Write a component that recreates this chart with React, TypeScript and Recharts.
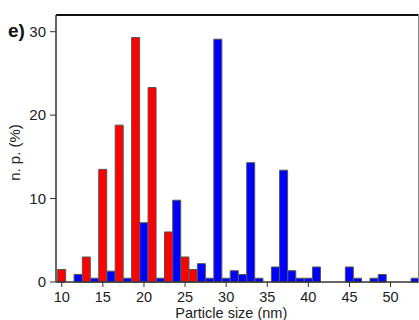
import { BarChart, Bar, XAxis, YAxis, ReferenceLine } from "recharts";

// particle size histogram, 1 nm bins
const sizes = [
  10, 11, 12, 13, 14, 15, 16, 17, 18, 19, 20, 21, 22, 23, 24, 25, 26, 27, 28, 29, 30, 31,
  32, 33, 34, 35, 36, 37, 38, 39, 40, 41, 42, 43, 44, 45, 46, 47, 48, 49, 50, 51, 52, 53,
];
const redBins = [10, 13, 15, 17, 19, 21, 23, 25, 26];
const redPct = [1.5, 3.0, 13.5, 18.8, 29.3, 23.3, 6.0, 3.0, 1.5];
const blueBins = [
  12, 14, 16, 18, 20, 22, 24, 27, 28, 29, 30, 31, 32, 33, 34, 36, 37, 38, 39, 40, 41, 45,
  46, 48, 49, 53,
];
const bluePct = [
  0.9, 0.45, 1.3, 0.45, 7.1, 0.45, 9.8, 2.2, 0.45, 29.1, 0.45, 1.35, 0.9, 14.3, 0.45, 1.8,
  13.4, 1.35, 0.45, 0.45, 1.8, 1.8, 0.45, 0.45, 0.9, 0.45,
];
const xTicks = [10, 15, 20, 25, 30, 35, 40, 45, 50];
const yTicks = [0, 10, 20, 30];

const data = sizes.map((s) => {
  const r = redBins.indexOf(s);
  const b = blueBins.indexOf(s);
  return {
    size: s,
    red: r >= 0 ? redPct[r] : null,
    blue: b >= 0 ? bluePct[b] : null,
  };
});

const font = "'Liberation Sans', Arial, sans-serif";
const tickStyle = { fontSize: 15, fill: "#222", fontFamily: font };

const YLabel = ({ viewBox }: any) => {
  const cy = viewBox.y + viewBox.height / 2 + 4;
  return (
    <text
      x={20}
      y={cy}
      transform={`rotate(-90, 20, ${cy})`}
      textAnchor="middle"
      style={{ fontSize: 15, fill: "#222", fontFamily: font }}
    >
      n. p. (%)
    </text>
  );
};

export default function App() {
  return (
    <div
      style={{
        position: "absolute",
        left: 0,
        top: 0,
        width: 419,
        height: 320,
        overflow: "hidden",
        background: "#fff",
      }}
    >
      <div
        style={{
          position: "absolute",
          left: 8,
          top: 21,
          fontSize: 19,
          lineHeight: "19px",
          fontWeight: 700,
          fontFamily: font,
          color: "#111",
        }}
      >
        e)
      </div>
      <BarChart
        width={419}
        height={320}
        data={data}
        margin={{ top: 15, right: 0.5, left: 0, bottom: 0 }}
        barCategoryGap={0}
        barGap={0}
      >
        <XAxis
          dataKey="size"
          type="number"
          domain={[9.3, 53.4]}
          allowDataOverflow
          ticks={xTicks}
          interval={0}
          height={38}
          tick={{ ...tickStyle, fontSize: 14.5 }}
          tickSize={5}
          tickMargin={5}
          stroke="#333"
          axisLine={{ stroke: "#333", strokeWidth: 1.5 }}
          tickLine={{ stroke: "#333" }}
          label={{
            value: "Particle size (nm)",
            position: "insideBottom",
            offset: 2,
            dx: -6,
            style: { fontSize: 14.5, fill: "#222", fontFamily: font },
          }}
        />
        <YAxis
          type="number"
          domain={[0, 32]}
          ticks={yTicks}
          interval={0}
          width={56}
          tick={tickStyle}
          tickSize={6}
          tickMargin={4}
          axisLine={{ stroke: "#333", strokeWidth: 1.5 }}
          tickLine={{ stroke: "#333" }}
          label={<YLabel />}
        />
        <ReferenceLine y={32} stroke="#111" strokeWidth={2} />
        <ReferenceLine x={53.4} stroke="#888" strokeWidth={1} />
        <Bar
          dataKey="red"
          stackId="a"
          fill="#ff0000"
          stroke="#555"
          strokeWidth={1}
          isAnimationActive={false}
        />
        <Bar
          dataKey="blue"
          stackId="a"
          fill="#0000ff"
          stroke="#555"
          strokeWidth={1}
          isAnimationActive={false}
        />
      </BarChart>
    </div>
  );
}
